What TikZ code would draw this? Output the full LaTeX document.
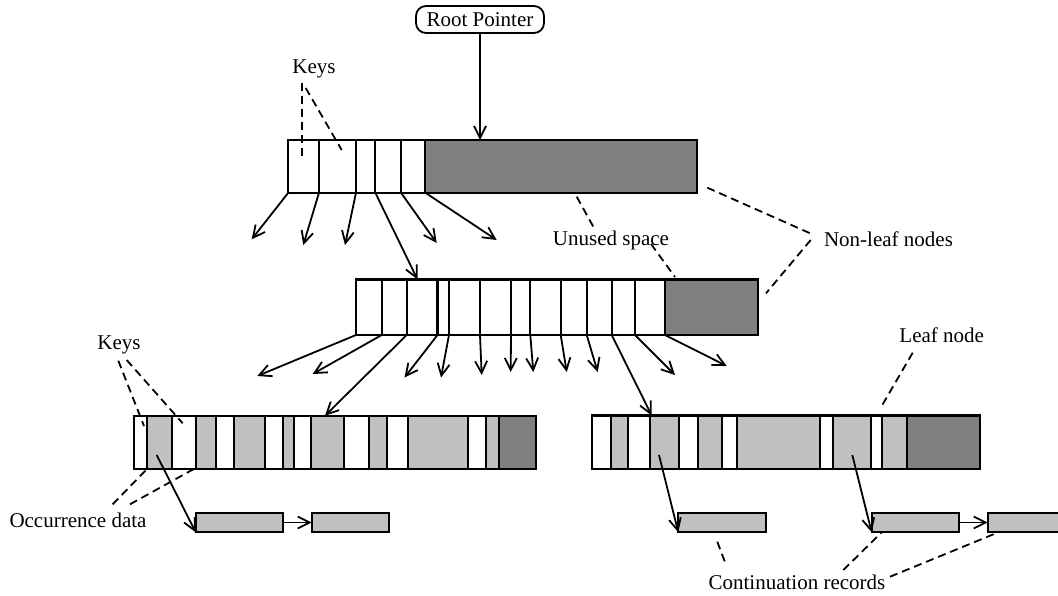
\documentclass[tikz,border=0pt]{standalone}
\usepackage{fontspec}
\setmainfont{Liberation Serif}
\usetikzlibrary{arrows.meta}
\definecolor{lg}{HTML}{C0C0C0}
\definecolor{dg}{HTML}{808080}
\newcommand\cellbox[6]{\node[cell, fill=#6, minimum width={(#3-#2)*1pt}, minimum height={(#5-#4)*1pt}] (#1) at (#2,#4) {};}
\begin{document}
\begin{tikzpicture}[x=1pt,y=-1pt,
  cell/.style={draw, line width=2.2pt, inner sep=0pt, outer sep=0pt, anchor=north west},
  ptr/.style={line width=1.8pt, -{Straight Barb[length=12pt,width=12pt,line width=1.8pt]}},
  lead/.style={line width=1.8pt, dash pattern=on 8pt off 5pt},
  lbl/.style={font=\fontsize{21}{24}\selectfont, inner sep=0pt},
  rootbox/.style={draw, line width=1.8pt, rounded corners=10pt, minimum width=128pt, minimum height=27pt, inner sep=0pt, font=\fontsize{21}{24}\selectfont}]
\useasboundingbox (0,0) rectangle (1058,595);
\fill[white] (0,0) rectangle (1058,595);

% root
\node[rootbox] (root) at (480,19.5) {Root Pointer};

% top non-leaf node
\cellbox{t1}{288.3}{319}{140}{192.7}{white}
\cellbox{t2}{319}{356}{140}{192.7}{white}
\cellbox{t3}{356}{375.3}{140}{192.7}{white}
\cellbox{t4}{375.3}{401}{140}{192.7}{white}
\cellbox{t5}{401}{425.3}{140}{192.7}{white}
\cellbox{t6}{425.3}{696.7}{140}{192.7}{dg}

% second non-leaf node
\cellbox{s1}{356}{381.7}{279.5}{335}{white}
\cellbox{s2}{381.7}{406.7}{279.5}{335}{white}
\cellbox{s3}{406.7}{437.5}{279.5}{335}{white}
\cellbox{s4}{437.5}{449}{279.5}{335}{white}
\cellbox{s5}{449}{480}{279.5}{335}{white}
\cellbox{s6}{480}{511}{279.5}{335}{white}
\cellbox{s7}{511}{530.3}{279.5}{335}{white}
\cellbox{s8}{530.3}{560.7}{279.5}{335}{white}
\cellbox{s9}{560.7}{586.7}{279.5}{335}{white}
\cellbox{s10}{586.7}{611.7}{279.5}{335}{white}
\cellbox{s11}{611.7}{635}{279.5}{335}{white}
\cellbox{s12}{635}{665}{279.5}{335}{white}
\cellbox{s13}{665}{758.3}{279.5}{335}{dg}

% leaf 1
\cellbox{a1}{134}{147.3}{415.7}{468.7}{white}
\cellbox{a2}{147.3}{171.7}{415.7}{468.7}{lg}
\cellbox{a3}{171.7}{196}{415.7}{468.7}{white}
\cellbox{a4}{196}{215.7}{415.7}{468.7}{lg}
\cellbox{a5}{215.7}{234.3}{415.7}{468.7}{white}
\cellbox{a6}{234.3}{265}{415.7}{468.7}{lg}
\cellbox{a7}{265}{282.7}{415.7}{468.7}{white}
\cellbox{a8}{282.7}{294.3}{415.7}{468.7}{lg}
\cellbox{a9}{294.3}{311}{415.7}{468.7}{white}
\cellbox{a10}{311}{344.3}{415.7}{468.7}{lg}
\cellbox{a11}{344.3}{369.3}{415.7}{468.7}{white}
\cellbox{a12}{369.3}{386.7}{415.7}{468.7}{lg}
\cellbox{a13}{386.7}{407.7}{415.7}{468.7}{white}
\cellbox{a14}{407.7}{468.3}{415.7}{468.7}{lg}
\cellbox{a15}{468.3}{485.7}{415.7}{468.7}{white}
\cellbox{a16}{485.7}{499.3}{415.7}{468.7}{lg}
\cellbox{a17}{499.3}{536}{415.7}{468.7}{dg}

% leaf 2
\cellbox{b1}{591.7}{611}{415.5}{468.7}{white}
\cellbox{b2}{611}{628.3}{415.5}{468.7}{lg}
\cellbox{b3}{628.3}{650}{415.5}{468.7}{white}
\cellbox{b4}{650}{679}{415.5}{468.7}{lg}
\cellbox{b5}{679}{697.7}{415.5}{468.7}{white}
\cellbox{b6}{697.7}{721.7}{415.5}{468.7}{lg}
\cellbox{b7}{721.7}{736.7}{415.5}{468.7}{white}
\cellbox{b8}{736.7}{820}{415.5}{468.7}{lg}
\cellbox{b9}{820}{832.7}{415.5}{468.7}{white}
\cellbox{b10}{832.7}{871}{415.5}{468.7}{lg}
\cellbox{b11}{871}{881.7}{415.5}{468.7}{white}
\cellbox{b12}{881.7}{906.7}{415.5}{468.7}{lg}
\cellbox{b13}{906.7}{980}{415.5}{468.7}{dg}

% continuation records
\cellbox{c1}{195.7}{282.7}{512.7}{532.3}{lg}
\cellbox{c2}{311.7}{389.3}{512.7}{532.3}{lg}
\cellbox{c3}{678.3}{766}{512.7}{532.3}{lg}
\cellbox{c4}{871.7}{959}{512.7}{532.3}{lg}
\cellbox{c5}{987.7}{1075}{512.7}{532.3}{lg}

% free ends
\coordinate (rt) at (480,140);
\coordinate (e1) at (251.7,239.3);
\coordinate (e2) at (303.3,245);
\coordinate (e3) at (345,245);
\coordinate (e4) at (417.5,279.5);
\coordinate (e5) at (436.7,243);
\coordinate (e6) at (496.7,240);
\coordinate (f1) at (257.3,376);
\coordinate (f2) at (312.7,374);
\coordinate (f3) at (325,415.7);
\coordinate (f4) at (404.5,377.5);
\coordinate (f5) at (441,377.5);
\coordinate (f6) at (481.7,375);
\coordinate (f7) at (510.7,372);
\coordinate (f8) at (533.3,372);
\coordinate (f9) at (566.7,372);
\coordinate (f10) at (597.7,372);
\coordinate (f11) at (651.7,415.5);
\coordinate (f12) at (675,375);
\coordinate (f13) at (726.7,366);
\coordinate (g1) at (156.7,455);
\coordinate (g2) at (659,455);
\coordinate (g3) at (852.3,455);

% pointers
\draw[ptr] (root.south) -- (rt);
\draw[ptr] (t1.south west) -- (e1);
\draw[ptr] (t2.south west) -- (e2);
\draw[ptr] (t3.south west) -- (e3);
\draw[ptr] (t4.south west) -- (e4);
\draw[ptr] (t5.south west) -- (e5);
\draw[ptr] (t6.south west) -- (e6);

\draw[ptr] (s1.south west) -- (f1);
\draw[ptr] (s2.south west) -- (f2);
\draw[ptr] (s3.south west) -- (f3);
\draw[ptr] (s4.south west) -- (f4);
\draw[ptr] (s5.south west) -- (f5);
\draw[ptr] (s6.south west) -- (f6);
\draw[ptr] (s7.south west) -- (f7);
\draw[ptr] (s8.south west) -- (f8);
\draw[ptr] (s9.south west) -- (f9);
\draw[ptr] (s10.south west) -- (f10);
\draw[ptr] (s11.south west) -- (f11);
\draw[ptr] (s12.south west) -- (f12);
\draw[ptr] (s13.south west) -- (f13);

\draw[ptr] (g1) -- (c1.south west);
\draw[ptr] (g2) -- (c3.south west);
\draw[ptr] (g3) -- (c4.south west);
\draw[ptr] (c1.east) -- (c2.west);
\draw[ptr] (c4.east) -- (c5.west);

% labels
\node[lbl] (keys1) at (314,69) {Keys};
\node[lbl] (keys2) at (119,345) {Keys};
\node[lbl] (occ) at (78,520) {Occurrence data};
\node[lbl] (unused) at (611,240) {Unused space};
\node[lbl] (nonleaf) at (888.5,239) {Non-leaf nodes};
\node[lbl] (leaf) at (941.7,335) {Leaf node};
\node[lbl] (cont) at (797,582) {Continuation records};

% leader lines
\coordinate (k1a) at (301.7,82.7);  \coordinate (k1b) at (301.7,160);
\coordinate (k1c) at (305.7,88);    \coordinate (k1d) at (341.7,150);
\coordinate (k2a) at (118.3,360.7); \coordinate (k2b) at (144,426);
\coordinate (k2c) at (126.7,360);   \coordinate (k2d) at (182.7,423.3);
\coordinate (o1a) at (112.7,504.3); \coordinate (o1b) at (146.7,469.3);
\coordinate (o2a) at (130,504.3);   \coordinate (o2b) at (193.3,469.3);
\coordinate (u1a) at (576.7,196.7); \coordinate (u1b) at (593.3,226.7);
\coordinate (u2a) at (651,244);     \coordinate (u2b) at (675,277);
\coordinate (n1a) at (707.3,187.7); \coordinate (n1b) at (814,235);
\coordinate (n2a) at (810.7,240);   \coordinate (n2b) at (766,293.3);
\coordinate (l1a) at (912.7,352.7); \coordinate (l1b) at (881.7,406);
\coordinate (r1a) at (717.3,541.7); \coordinate (r1b) at (725.7,564);
\coordinate (r2a) at (843.3,570);   \coordinate (r2b) at (881.7,532.3);
\coordinate (r3a) at (890,576.7);   \coordinate (r3b) at (998.3,532.3);
\draw[lead] (k1a) -- (k1b);
\draw[lead] (k1c) -- (k1d);
\draw[lead] (k2a) -- (k2b);
\draw[lead] (k2c) -- (k2d);
\draw[lead] (o1a) -- (o1b);
\draw[lead] (o2a) -- (o2b);
\draw[lead] (u1a) -- (u1b);
\draw[lead] (u2a) -- (u2b);
\draw[lead] (n1a) -- (n1b);
\draw[lead] (n2a) -- (n2b);
\draw[lead] (l1a) -- (l1b);
\draw[lead] (r1a) -- (r1b);
\draw[lead] (r2a) -- (r2b);
\draw[lead] (r3a) -- (r3b);
\end{tikzpicture}
\end{document}
